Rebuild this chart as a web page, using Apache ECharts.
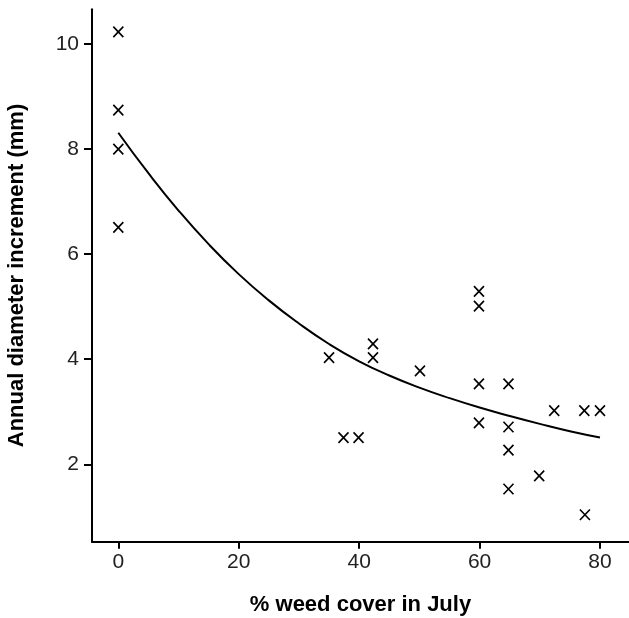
<!DOCTYPE html>
<html>
<head>
<meta charset="utf-8">
<script src="https://cdn.jsdelivr.net/npm/echarts@6/dist/echarts.min.js"></script>
<style>
html,body{margin:0;padding:0;background:#fff;}
#c{width:629px;height:618px;}
</style>
</head>
<body>
<div id="c"></div>
<script>
// Observed points (% weed cover, diameter increment mm)
var pointX = [0, 0, 0, 0, 35.0, 37.4, 39.9, 42.3, 42.3, 50.1, 59.9, 59.9, 59.9, 59.9, 64.8, 64.8, 64.8, 64.8, 69.9, 72.4, 77.4, 80.0, 77.5];
var pointY = [10.23, 8.74, 8.0, 6.51, 4.03, 2.51, 2.51, 4.29, 4.03, 3.78, 5.29, 5.01, 3.53, 2.79, 3.53, 2.71, 2.27, 1.53, 1.78, 3.02, 3.02, 3.02, 1.04];
// Fitted curve
var curveX = [0, 5, 10, 15, 20, 25, 30, 35, 40, 45, 50, 55, 60, 65, 70, 75, 80];
var curveY = [8.31, 7.54, 6.83, 6.19, 5.62, 5.12, 4.68, 4.29, 3.96, 3.69, 3.46, 3.26, 3.08, 2.92, 2.77, 2.63, 2.51];
var xTicks = [0, 20, 40, 60, 80];
var yTicks = [2, 4, 6, 8, 10];

var font = 'Liberation Sans, Arial, Helvetica, sans-serif';
var chart = echarts.init(document.getElementById('c'), null, {renderer: 'canvas'});
var scatterData = pointX.map(function (x, i) { return [x, pointY[i]]; });
var curveData = curveX.map(function (x, i) { return [x, curveY[i]]; });

chart.setOption({
  animation: false,
  backgroundColor: '#fff',
  grid: {left: 92, top: 9.3, right: 0, bottom: 76.3, containLabel: false, outerBoundsMode: 'none'},
  xAxis: {
    type: 'value', min: -4.37, max: 84.82,
    name: '% weed cover in July', nameLocation: 'middle', nameGap: 52,
    nameTextStyle: {fontFamily: font, fontSize: 22, fontWeight: 'bold', color: '#000'},
    axisLine: {show: true, onZero: false, lineStyle: {color: '#000', width: 2}},
    axisTick: {show: true, length: 7, customValues: xTicks, lineStyle: {color: '#000', width: 2}},
    axisLabel: {customValues: xTicks, fontFamily: font, fontSize: 21, color: '#222', margin: 10},
    splitLine: {show: false}
  },
  yAxis: {
    type: 'value', min: 0.527, max: 10.66,
    name: 'Annual diameter increment (mm)', nameLocation: 'middle', nameGap: 64, nameRotate: 90,
    nameTextStyle: {fontFamily: font, fontSize: 22, fontWeight: 'bold', color: '#000'},
    axisLine: {show: true, onZero: false, lineStyle: {color: '#000', width: 2}},
    axisTick: {show: true, length: 8, customValues: yTicks, lineStyle: {color: '#000', width: 2}},
    axisLabel: {customValues: yTicks, fontFamily: font, fontSize: 21, color: '#222', margin: 13},
    splitLine: {show: false}
  },
  series: [
    {
      type: 'line', data: curveData, smooth: true, showSymbol: false, silent: true,
      lineStyle: {color: '#000', width: 2}
    },
    {
      type: 'scatter', data: scatterData,
      symbol: 'path://M0,0L10,11M10,0L0,11', symbolSize: [10, 10.5],
      itemStyle: {color: 'rgba(0,0,0,0)', borderColor: '#000', borderWidth: 1.7, opacity: 1}
    }
  ]
});
</script>
</body>
</html>
